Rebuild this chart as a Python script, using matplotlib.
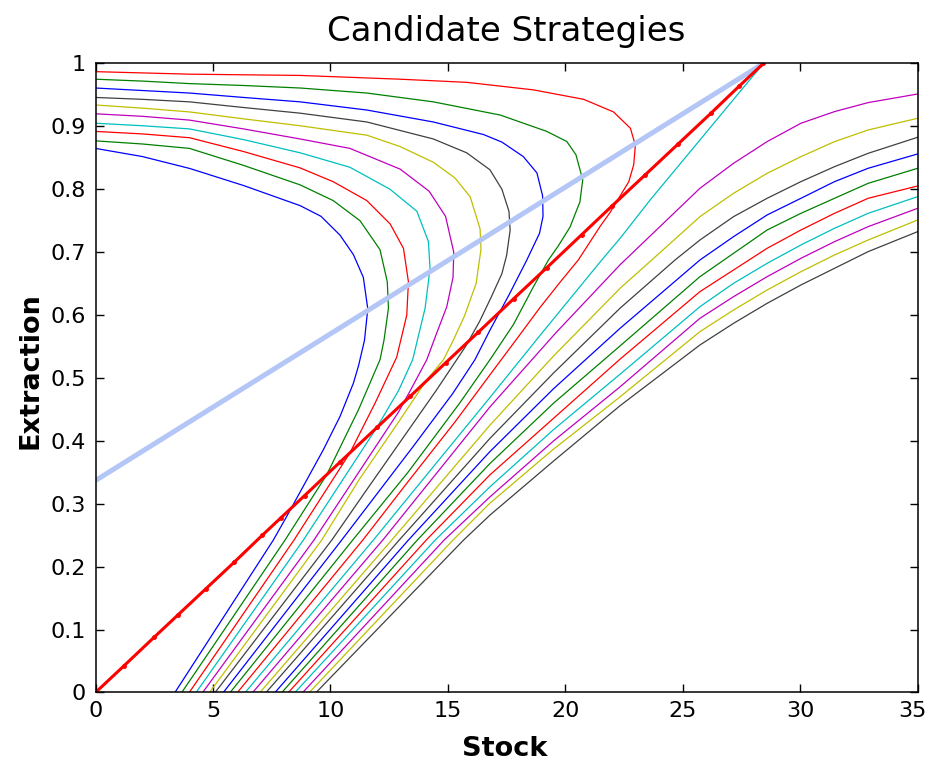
import matplotlib
matplotlib.use("Agg")
import matplotlib.pyplot as plt
from matplotlib.transforms import ScaledTranslation

# Candidate extraction paths (stock, extraction), in plotting order.
# The first ten bend back (C-shaped), the rest run off to the right.
stock_01 = [0, 2, 4.02, 6.3, 8.71, 9.6, 10.41, 10.98, 11.40, 11.59, 11.45, 11.2, 10.98, 10.41, 9.70, 8.92, 8.14, 7.57, 3.38]
extr_01 = [.865, .852, .833, .806, .774, .757, .727, .696, .660, .610, .560, .52, .492, .439, .386, .333, .280, .2424, 0]

stock_02 = [0, 2, 4, 6.3, 8.71, 10.12, 11.26, 12.11, 12.42, 12.47, 12.28, 12.11, 11.2, 9.84, 8.07, 3.67]
extr_02 = [.877, .872, .865, .838, .807, .782, .750, .704, .653, .611, .56, .529, .45, .346, .2424, 0]

stock_03 = [0, 2, 4, 6.3, 8.71, 10.12, 11.55, 12.54, 13.11, 13.32, 13.25, 12.82, 11.9, 10.83, 8.45, 3.99]
extr_03 = [.892, .888, .882, .860, .834, .812, .782, .745, .706, .653, .600, .533, .46, .381, .2424, 0]

stock_04 = [0, 2, 4, 6.3, 8.71, 10.83, 12.54, 13.68, 14.17, 14.24, 14.03, 13.5, 12.9, 11.97, 8.85, 4.28]
extr_04 = [.905, .901, .896, .879, .858, .835, .80, .765, .717, .674, .611, .529, .48, .421, .2424, 0]

stock_05 = [0, 2, 4, 6.3, 8.71, 10.83, 12.97, 14.2, 14.9, 15.25, 15.22, 14.95, 14.52, 14.1, 13.4, 12.9, 9.30, 4.56]
extr_05 = [.920, .916, .910, .896, .880, .865, .832, .797, .757, .70, .66, .613, .571, .529, .48, .446, .2424, 0]

stock_06 = [0, 2, 4, 6.3, 8.71, 11.55, 12.96, 14.38, 15.3, 15.95, 16.37, 16.41, 16.2, 15.7, 15.23, 14.81, 14.10, 12.9, 11.25, 9.63, 4.85]
extr_06 = [.934, .929, .923, .912, .901, .886, .868, .843, .818, .788, .737, .705, .650, .598, .560, .529, .497, .43, .34, .2424, 0]

stock_07 = [0, 2, 4, 6.3, 8.71, 11.55, 14.38, 15.8, 16.79, 17.3, 17.6, 17.65, 17.5, 17.3, 16.85, 16.35, 15.75, 14.5, 13.0, 11.5, 10.06, 5.09]
extr_07 = [.946, .943, .939, .930, .921, .907, .880, .858, .831, .800, .765, .735, .695, .666, .629, .590, .550, .48, .40, .32, .2424, 0]

stock_08 = [0, 2, 4, 6.3, 8.71, 11.55, 14.38, 16.52, 17.3, 18.21, 18.79, 19.03, 19.05, 18.9, 18.36, 17.6, 16.79, 16.15, 15.2, 13.5, 10.48, 5.44]
extr_08 = [.961, .957, .953, .946, .939, .926, .907, .887, .875, .852, .826, .790, .757, .73, .6876, .632, .576, .529, .475, .39, .2424, 0]

stock_09 = [0, 2, 4, 6.3, 8.71, 11.55, 14.38, 17.23, 19.21, 20.06, 20.45, 20.74, 20.62, 20.2, 19.7, 19.28, 18.64, 17.79, 16.79, 15.5, 13.3, 10.95, 5.73]
extr_09 = [.975, .972, .968, .965, .961, .953, .939, .918, .892, .876, .855, .815, .78, .74, .71, .6876, .645, .585, .529, .46, .35, .2424, 0]

stock_10 = [0, 4, 8.71, 12.97, 15.81, 18.65, 20.78, 22.05, 22.77, 22.98, 22.91, 22.70, 22.34, 21.9, 21.48, 20.55, 19.77, 18.92, 17.93, 16.79, 15.3, 13.3, 11.38, 6.04]
extr_10 = [.987, .983, .981, .975, .970, .958, .943, .923, .897, .870, .839, .812, .790, .763, .741, .6876, .652, .612, .562, .505, .43, .335, .2424, 0]

stock_11 = [6.37, 11.83, 16.79, 19.06, 21.55, 22.33, 23.61, 28.43]
extr_11 = [0, .2424, .469, .574, .6876, .722, .783, 1.0]

stock_12 = [6.69, 12.23, 14.55, 16.79, 19.6, 22.33, 25.73, 27.16, 28.59, 30.03, 31.46, 32.89, 35]
extr_12 = [0, .2424, .35, .454, .572, .680, .8016, .8413, .8758, .905, .9235, .9378, .9515]

stock_13 = [7.0, 12.61, 16.79, 19.5, 22.33, 23.68, 25.73, 27.16, 28.59, 30.03, 31.46, 32.89, 35]
extr_13 = [0, .2424, .425, .535, .6426, .6876, .7565, .7936, .8254, .8519, .8758, .8943, .9129]

stock_14 = [7.26, 12.93, 16.79, 19.5, 22.33, 24.67, 25.73, 27.16, 28.59, 30.03, 31.46, 32.89, 35]
extr_14 = [0, .2424, .404, .508, .611, .6876, .7194, .7565, .7857, .8122, .836, .8572, .8827]

stock_15 = [7.64, 13.32, 16.79, 19.5, 22.33, 25.73, 27.16, 28.59, 30.03, 31.46, 32.89, 35]
extr_15 = [0, .2424, .383, .483, .579, .6876, .7247, .7592, .7857, .8122, .8334, .8562]

stock_16 = [7.93, 13.70, 16.79, 19.5, 22.33, 25.73, 27.16, 28.59, 30.03, 31.46, 32.89, 35]
extr_16 = [0, .2424, .364, .46, .551, .6611, .6982, .7353, .7618, .7857, .8095, .8334]

stock_17 = [8.21, 14.08, 16.79, 19.5, 22.33, 25.73, 27.16, 28.59, 30.03, 31.46, 32.89, 35]
extr_17 = [0, .2424, .346, .436, .53, .6373, .6717, .7062, .7353, .7618, .7857, .8053]

stock_18 = [8.49, 14.46, 16.79, 19.5, 22.33, 25.73, 27.16, 28.59, 30.03, 31.46, 32.89, 35]
extr_18 = [0, .2424, .327, .418, .506, .6134, .6505, .6823, .7115, .738, .7618, .7883]

stock_19 = [8.82, 14.84, 16.79, 19.5, 22.33, 25.73, 27.16, 28.59, 30.03, 31.46, 32.89, 35]
extr_19 = [0, .2424, .311, .40, .486, .5949, .6293, .6611, .6903, .7168, .7406, .7698]

stock_20 = [9.10, 15.22, 16.79, 19.5, 22.33, 25.73, 27.16, 28.59, 30.03, 31.46, 32.89, 35]
extr_20 = [0, .2424, .301, .387, .47, .5737, .6081, .6399, .669, .6956, .7194, .7512]

stock_21 = [9.39, 15.67, 16.79, 19.5, 22.33, 25.73, 27.16, 28.59, 30.03, 31.46, 32.89, 35]
extr_21 = [0, .2424, .282, .368, .456, .5525, .5869, .6187, .6479, .6744, .7009, .7327]

# thick lines: steady-state extraction (red, with sample points) and the pale blue line
steady_stock = [0, 1.2, 2.5, 3.5, 4.7, 5.9, 7.1, 7.9, 8.9, 10.4, 12.0, 13.4, 14.9, 16.3, 17.8, 19.2, 20.7, 22.0, 23.4, 24.8, 26.2, 27.4, 28.43]
steady_extr = [0, .042, .088, .123, .165, .207, .250, .278, .313, .366, .422, .471, .524, .573, .626, .675, .728, .774, .823, .872, .921, .964, 1.0]
pale_stock = [0, 28.43]
pale_extr = [.337, 1.0]

xtick_vals = [0, 5, 10, 15, 20, 25, 30, 35]
xtick_text = ["0", "5", "10", "15", "20", "25", "30", "35"]
ytick_vals = [0, .1, .2, .3, .4, .5, .6, .7, .8, .9, 1]
ytick_text = ["0", "0.1", "0.2", "0.3", "0.4", "0.5", "0.6", "0.7", "0.8", "0.9", "1"]

paths = [
    (stock_01, extr_01), (stock_02, extr_02), (stock_03, extr_03), (stock_04, extr_04),
    (stock_05, extr_05), (stock_06, extr_06), (stock_07, extr_07), (stock_08, extr_08),
    (stock_09, extr_09), (stock_10, extr_10), (stock_11, extr_11), (stock_12, extr_12),
    (stock_13, extr_13), (stock_14, extr_14), (stock_15, extr_15), (stock_16, extr_16),
    (stock_17, extr_17), (stock_18, extr_18), (stock_19, extr_19), (stock_20, extr_20),
    (stock_21, extr_21),
]

# old MATLAB colour order b, g, r, c, m, y, k
line_colors = [(0, 0, 1), (0, 0.5, 0), (1, 0, 0), (0, 0.75, 0.75),
               (0.75, 0, 0.75), (0.75, 0.75, 0), (0.25, 0.25, 0.25)]

fig = plt.figure(figsize=(9.3, 7.63), dpi=100)
ax = fig.add_axes([0.1027, 0.0924, 0.8841, 0.8244])

for i, (s, e) in enumerate(paths):
    ax.plot(s, e, color=line_colors[i % 7], linewidth=0.9)

ax.plot(pale_stock, pale_extr, color="#b3c6f6", linewidth=3.6, solid_capstyle="butt")
ax.plot(steady_stock, steady_extr, color="red", linewidth=2.2, marker=".", markersize=5)

ax.set_xlim(0, 35)
ax.set_ylim(0, 1)
ax.set_xticks(xtick_vals)
ax.set_xticklabels(xtick_text)
ax.set_yticks(ytick_vals)
ax.set_yticklabels(ytick_text)
ax.tick_params(direction="in", length=6, width=1, top=True, right=True,
               labelsize=16, colors="black")
ax.tick_params(axis="x", pad=6)
ax.tick_params(axis="y", pad=7)
for sp in ax.spines.values():
    sp.set_linewidth(1.1)

# nudge the last x label inward so it stays inside the figure
last_label = ax.get_xticklabels()[-1]
last_label.set_transform(last_label.get_transform() + ScaledTranslation(-5 / 100, 0, fig.dpi_scale_trans))

fig.text(0.544, 1 - 31 / 763, "Candidate Strategies", ha="center", va="center", fontsize=24.5)
fig.text(0.543, 1 - 749 / 763, "Stock", ha="center", va="center", fontsize=19.5, fontweight="bold")
fig.text(31 / 930, 1 - 371 / 763, "Extraction", ha="center", va="center", rotation=90,
         fontsize=19.5, fontweight="bold")

fig.savefig("out.png", dpi=100)
